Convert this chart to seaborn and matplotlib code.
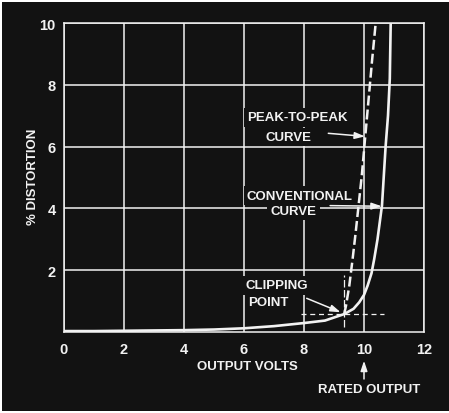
import matplotlib
matplotlib.use("Agg")
import matplotlib.pyplot as plt
import matplotlib.patches as mpatches
import seaborn as sns
import pandas as pd

# Conventional distortion curve (output volts vs % distortion)
conv_volts = [0, 1, 2, 3, 4, 5, 6, 7, 8, 8.7, 9.34, 9.65, 9.84, 10.0, 10.12,
              10.25, 10.34, 10.45, 10.6, 10.72, 10.8, 10.86, 10.89]
conv_dist = [0.03, 0.03, 0.04, 0.05, 0.06, 0.08, 0.12, 0.19, 0.29, 0.37, 0.58,
             0.75, 0.96, 1.2, 1.5, 1.9, 2.36, 3.0, 4.1, 6.0, 7.0, 8.2, 10.0]

# Peak-to-peak distortion curve, rising from the clipping point
p2p_volts = [9.34, 9.40, 9.51, 9.62, 9.72, 9.82, 9.93, 10.03, 10.15, 10.27, 10.39]
p2p_dist = [0.58, 0.85, 1.5, 2.36, 3.2, 4.1, 5.1, 6.2, 7.5, 8.8, 10.0]

# Clipping point marker
clip_volts = 9.34
clip_dist = 0.58

x_ticks = [0, 2, 4, 6, 8, 10, 12]
y_ticks = [2, 4, 6, 8, 10]
x_tick_labels = ["0", "2", "4", "6", "8", "10", "12"]
y_tick_labels = ["2", "4", "6", "8", "10"]

FG = "#f2f2f2"
BG = "#121212"

sns.set_style("dark")
plt.rcParams["font.family"] = ["Liberation Sans", "DejaVu Sans"]
plt.rcParams["font.weight"] = "bold"
plt.rcParams["axes.labelweight"] = "bold"

fig = plt.figure(figsize=(4.49, 4.14), dpi=100, facecolor="white")
# dark plate behind the chart
fig.patches.append(mpatches.Rectangle((2 / 449, 2 / 414), 447 / 449, 409 / 414,
                                      transform=fig.transFigure, facecolor=BG,
                                      edgecolor="none", zorder=-10))
ax = fig.add_axes([64 / 449, 1 - 333 / 414, 360 / 449, 309 / 414])
ax.set_facecolor(BG)

conv_df = pd.DataFrame({"volts": conv_volts, "dist": conv_dist})
p2p_df = pd.DataFrame({"volts": p2p_volts, "dist": p2p_dist})

sns.lineplot(data=conv_df, x="volts", y="dist", ax=ax, color=FG, lw=1.9,
             sort=False, estimator=None, zorder=7)
sns.lineplot(data=p2p_df, x="volts", y="dist", ax=ax, color=FG, lw=1.8,
             sort=False, estimator=None, zorder=7)
ax.lines[-1].set_linestyle((0, (4, 1.6)))

# clipping point cross-hairs
ax.plot([7.9, 10.67], [clip_dist, clip_dist], color=FG, lw=0.9,
        linestyle=(0, (4, 3)), zorder=3)
ax.plot([clip_volts, clip_volts], [0.16, 1.85], color=FG, lw=0.9,
        linestyle=(0, (6, 2)), zorder=3)

ax.set_xlim(0, 12)
ax.set_ylim(0, 10)
ax.set_xticks(x_ticks)
ax.set_xticklabels(x_tick_labels)
ax.set_yticks(y_ticks)
ax.set_yticklabels(y_tick_labels)
ax.tick_params(axis="both", length=0, colors=FG, labelsize=10.5)
ax.tick_params(axis="x", pad=7)
ax.tick_params(axis="y", pad=6)
ax.grid(True, color=FG, lw=1.1)
ax.set_axisbelow(True)
for sp in ax.spines.values():
    sp.set_visible(True)
    sp.set_color(FG)
    sp.set_linewidth(1.1)

ax.set_xlabel("OUTPUT VOLTS", color=FG, fontsize=9.5, va="center")
ax.xaxis.set_label_coords(0.51, -0.109)
ax.set_ylabel("% DISTORTION", color=FG, fontsize=9.5, va="center")
ax.yaxis.set_label_coords(-0.086, 0.505)

box = dict(boxstyle="square,pad=0.25", facecolor=BG, edgecolor="none")
txt = dict(color=FG, fontsize=9.5, ha="center", va="center", bbox=box, zorder=5)
ax.text(7.78, 6.95, "PEAK-TO-PEAK", **txt)
ax.text(7.50, 6.31, "CURVE", **txt)
ax.text(7.86, 4.41, "CONVENTIONAL", **txt)
ax.text(7.65, 3.93, "CURVE", **txt)
ax.text(7.10, 1.51, "CLIPPING", **txt)
ax.text(6.82, 0.98, "POINT", **txt)

arrow = dict(arrowstyle="-|>,head_length=0.6,head_width=0.2", color=FG, lw=1.1,
             shrinkA=0, shrinkB=0)
ax.annotate("", xy=(10.03, 6.33), xytext=(8.81, 6.43), arrowprops=arrow, zorder=6)
ax.annotate("", xy=(10.59, 4.07), xytext=(8.87, 4.09), arrowprops=arrow, zorder=6)
ax.annotate("", xy=(9.22, 0.64), xytext=(8.09, 1.09), arrowprops=arrow, zorder=6)

# rated output marker below the axis
ax.annotate("", xy=(10.0, -0.93), xytext=(10.0, -1.52), arrowprops=arrow,
            annotation_clip=False)
ax.text(10.17, -1.84, "RATED OUTPUT", color=FG, fontsize=9.5, ha="center",
        va="center", clip_on=False)

fig.savefig("out.png", dpi=100, facecolor="white")
